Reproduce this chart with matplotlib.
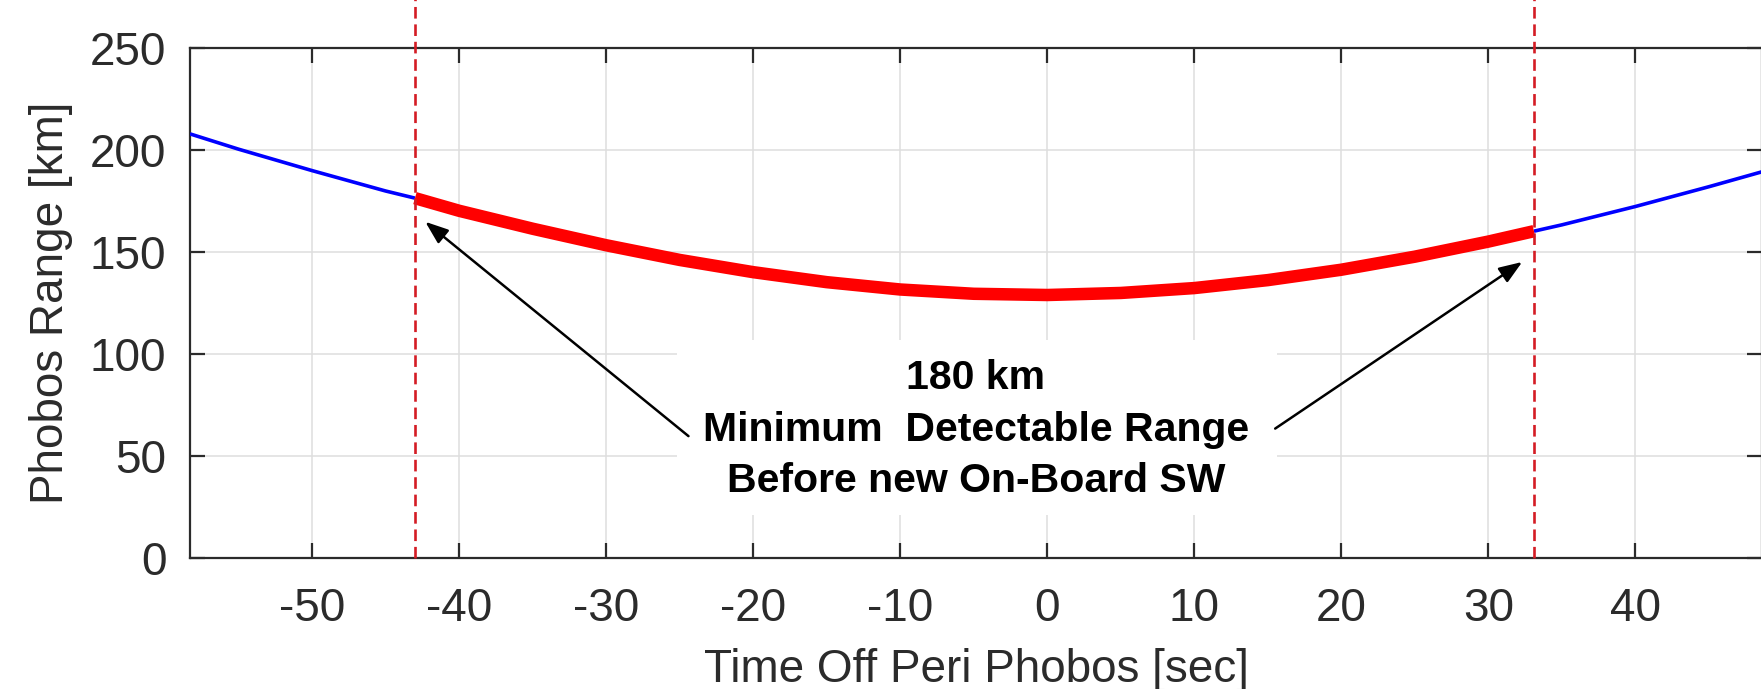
import matplotlib
matplotlib.use('Agg')
import matplotlib.pyplot as plt
from matplotlib.patches import Rectangle

# Phobos range along the fly-by
time_s = [-58.3, -55, -50, -45, -43.0, -40, -35, -30, -25, -20, -15, -10, -5,
          0, 5, 10, 15, 20, 25, 30, 33.1, 35, 40, 45, 48.6]
range_km = [208.0, 200.5, 190.0, 180.0, 176.5, 170.3, 161.5, 153.4, 146.2, 140.2,
            135.3, 131.7, 129.6, 129.0, 130.0, 132.4, 136.3, 141.4, 147.8, 155.2,
            160.3, 163.4, 172.4, 182.1, 189.4]

# detection window (below 180 km)
window_start = -43.0
window_end = 33.1

x_ticks = [-50, -40, -30, -20, -10, 0, 10, 20, 30, 40]
y_ticks = [0, 50, 100, 150, 200, 250]

note_lines = ['180 km', 'Minimum  Detectable Range', 'Before new On-Board SW']

plt.rcParams['font.family'] = ['Liberation Sans', 'DejaVu Sans']
plt.rcParams['axes.unicode_minus'] = False
axis_grey = '#2b2b2b'

fig = plt.figure(figsize=(17.61, 6.89), dpi=100)
ax = fig.add_axes([0.1079, 0.190, 0.8926, 0.740])

# split the curve into outside / inside window
before_t = [t for t in time_s if t <= window_start]
before_r = [r for t, r in zip(time_s, range_km) if t <= window_start]
inside_t = [t for t in time_s if window_start <= t <= window_end]
inside_r = [r for t, r in zip(time_s, range_km) if window_start <= t <= window_end]
after_t = [t for t in time_s if t >= window_end]
after_r = [r for t, r in zip(time_s, range_km) if t >= window_end]

ax.plot(before_t, before_r, color='#0000ff', lw=2.6, zorder=3, solid_capstyle='butt')
ax.plot(after_t, after_r, color='#0000ff', lw=2.6, zorder=3, solid_capstyle='butt')
ax.plot(inside_t, inside_r, color='#ff0000', lw=9, zorder=4, solid_capstyle='butt')

for tx in (window_start, window_end):
    ax.axvline(tx, ymin=0, ymax=1.1, color='#d41c24', lw=1.9,
               dashes=(4.4, 2.2), clip_on=False, zorder=5)

# white box behind the note hides the grid
ax.add_patch(Rectangle((-25.2, 21), 40.8, 86, facecolor='white',
                       edgecolor='none', zorder=2))
ax.text(-4.85, 63.0, '\n'.join(note_lines), ha='center', va='center',
        fontsize=29.5, fontweight='bold', linespacing=1.45, zorder=6)

arrow = dict(arrowstyle='-|>,head_length=0.4,head_width=0.15', color='black',
             lw=1.8, mutation_scale=35, shrinkA=0, shrinkB=0)
ax.annotate('', xy=(-42.3, 164.9), xytext=(-24.4, 59.8), arrowprops=arrow, zorder=7)
ax.annotate('', xy=(32.3, 145.2), xytext=(15.5, 63.5), arrowprops=arrow, zorder=7)

ax.set_xlim(-58.3, 48.6)
ax.set_ylim(0, 250)
ax.set_xticks(x_ticks)
ax.set_yticks(y_ticks)
ax.grid(True, color='#dedede', lw=1.1, zorder=0)
ax.set_axisbelow(True)

for s in ax.spines.values():
    s.set_color(axis_grey)
    s.set_linewidth(1.6)
ax.tick_params(direction='in', top=True, right=True, length=11, width=1.6,
               colors=axis_grey, labelsize=33, pad=17)
ax.tick_params(axis='x', pad=21)

ax.set_xlabel('Time Off Peri Phobos [sec]', fontsize=33, color=axis_grey, labelpad=12)
ax.set_ylabel('Phobos Range [km]', fontsize=33, color=axis_grey, labelpad=12)

fig.savefig('out.png', dpi=100)
